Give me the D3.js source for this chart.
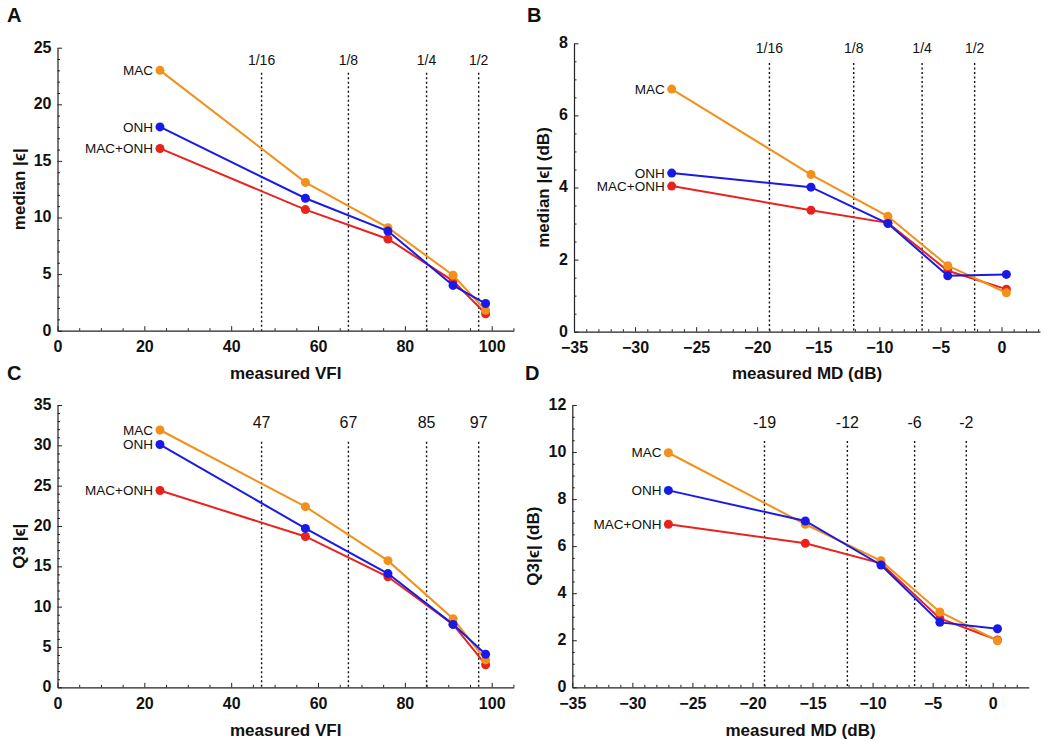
<!DOCTYPE html>
<html>
<head>
<meta charset="utf-8">
<script src="https://cdn.jsdelivr.net/npm/d3@7"></script>
<style>
  body { margin: 0; background: #fff; }
  text { font-family: "Liberation Sans", Arial, Helvetica, sans-serif; }
</style>
</head>
<body>
<svg id="fig" width="1050" height="741"></svg>
<script>
// measured VFI / MD bins (x positions of the points)
const vfiX = [23.6, 57.1, 76.1, 91.1, 98.6];
const mdX = [-27.0, -15.6, -9.3, -4.4, 0.4];

const seriesNames = ["MAC", "ONH", "MAC+ONH"];

// A: median |e| vs VFI
const medVfiMac = [23.0, 13.1, 9.1, 4.9, 1.8];
const medVfiOnh = [18.0, 11.7, 8.8, 4.0, 2.4];
const medVfiBoth = [16.1, 10.7, 8.1, 4.4, 1.5];

// B: median |e| (dB) vs MD
const medMdMac = [6.73, 4.36, 3.2, 1.83, 1.08];
const medMdOnh = [4.4, 4.01, 3.0, 1.55, 1.59];
const medMdBoth = [4.04, 3.37, 3.02, 1.69, 1.18];

// C: Q3 |e| vs VFI
const q3VfiMac = [31.9, 22.4, 15.7, 8.5, 3.4];
const q3VfiOnh = [30.1, 19.7, 14.1, 7.8, 4.1];
const q3VfiBoth = [24.4, 18.7, 13.7, 7.8, 2.8];

// D: Q3 |e| (dB) vs MD
const q3MdMac = [9.97, 6.93, 5.38, 3.2, 1.98];
const q3MdOnh = [8.37, 7.07, 5.2, 2.76, 2.49];
const q3MdBoth = [6.93, 6.12, 5.27, 2.93, 2.01];

// dotted reference lines
const vfiRefs = [47, 67, 85, 97];
const mdRefs = [-19, -12.1, -6.5, -2.2];
const fracLabels = ["1/16", "1/8", "1/4", "1/2"];
const vfiRefLabels = ["47", "67", "85", "97"];
const mdRefLabels = ["-19", "-12", "-6", "-2"];

const colors = { "MAC": "#f39019", "ONH": "#1a1ae6", "MAC+ONH": "#e8231e" };
const drawOrder = ["MAC+ONH", "MAC", "ONH"];

const svg = d3.select("#fig");

const panels = [
  { letter: "A", lx: 7, ly: 22, x: vfiX, ys: [medVfiMac, medVfiOnh, medVfiBoth],
    xDom: [0, 100], xRng: [57.5, 491.7], xEnd: 105.1, xMaj: d3.range(0, 101, 20), xMin: 5,
    yDom: [0, 25], yRng: [330.7, 47.7], yMaj: d3.range(0, 26, 5), yMin: 1,
    refs: vfiRefs, refLabels: fracLabels, refY: 60, refTop: 72.7, refFont: 14,
    xTitle: "measured VFI", xTitleY: 379, yTitle: "median |\u03f5|", yTitleX: 19 },
  { letter: "B", lx: 527, ly: 22, x: mdX, ys: [medMdMac, medMdOnh, medMdBoth],
    xDom: [-35, 0], xRng: [574, 1001.5], xEnd: 3.15, xMaj: d3.range(-35, 1, 5), xMin: 1,
    yDom: [0, 8], yRng: [331.7, 43.3], yMaj: d3.range(0, 9, 2), yMin: 0.5,
    refs: mdRefs, refLabels: fracLabels, refY: 48, refTop: 63, refFont: 14,
    xTitle: "measured MD (dB)", xTitleY: 379, yTitle: "median |\u03f5| (dB)", yTitleX: 543 },
  { letter: "C", lx: 7, ly: 380, x: vfiX, ys: [q3VfiMac, q3VfiOnh, q3VfiBoth],
    xDom: [0, 100], xRng: [57.5, 491.7], xEnd: 105.1, xMaj: d3.range(0, 101, 20), xMin: 5,
    yDom: [0, 35], yRng: [687.3, 405], yMaj: d3.range(0, 36, 5), yMin: 1,
    refs: vfiRefs, refLabels: vfiRefLabels, refY: 422, refTop: 441.7, refFont: 16,
    xTitle: "measured VFI", xTitleY: 736, yTitle: "Q3 |\u03f5|", yTitleX: 19 },
  { letter: "D", lx: 525, ly: 380, x: mdX, ys: [q3MdMac, q3MdOnh, q3MdBoth],
    xDom: [-35, 0], xRng: [572.3, 992.7], xEnd: 3.0, xMaj: d3.range(-35, 1, 5), xMin: 1,
    yDom: [0, 12], yRng: [687.3, 405], yMaj: d3.range(0, 13, 2), yMin: 0.5,
    refs: mdRefs, refLabels: mdRefLabels, refY: 422, refTop: 441, refFont: 16,
    xTitle: "measured MD (dB)", xTitleY: 736, yTitle: "Q3|\u03f5| (dB)", yTitleX: 533 }
];

panels.forEach(p => {
  const x = d3.scaleLinear().domain(p.xDom).range(p.xRng);
  const xAx = d3.scaleLinear().domain([p.xDom[0], p.xEnd]).range([x(p.xDom[0]), x(p.xEnd)]);
  const y = d3.scaleLinear().domain(p.yDom).range(p.yRng);
  const g = svg.append("g");

  // minor ticks
  const xMinor = d3.range(p.xDom[0], p.xEnd, p.xMin).filter(v => !p.xMaj.includes(Math.round(v * 100) / 100));
  g.append("g")
    .attr("transform", `translate(0,${y(0)})`)
    .call(d3.axisBottom(xAx).tickValues(xMinor).tickSize(-2.5).tickSizeOuter(0).tickFormat(""))
    .call(s => s.select(".domain").remove());
  const yMinor = d3.range(p.yDom[0], p.yDom[1], p.yMin).filter(v => !p.yMaj.includes(Math.round(v * 100) / 100));
  g.append("g")
    .attr("transform", `translate(${x(p.xDom[0])},0)`)
    .call(d3.axisLeft(y).tickValues(yMinor).tickSize(-2.5).tickSizeOuter(0).tickFormat(""))
    .call(s => s.select(".domain").remove());

  // major axes
  const xa = g.append("g")
    .attr("transform", `translate(0,${y(0)})`)
    .call(d3.axisBottom(xAx).tickValues(p.xMaj).tickSize(-4.5).tickSizeOuter(0).tickPadding(11.5));
  const ya = g.append("g")
    .attr("transform", `translate(${x(p.xDom[0])},0)`)
    .call(d3.axisLeft(y).tickValues(p.yMaj).tickSize(-4.5).tickSizeOuter(0).tickPadding(6));
  [xa, ya].forEach(a => {
    a.selectAll("text").attr("font-size", 16).attr("font-weight", "bold").attr("fill", "#111")
      .style("font-family", "'Liberation Sans', Arial, sans-serif");
    a.select(".domain").attr("stroke", "#222").attr("stroke-width", 1.2);
  });
  ya.selectAll("text").attr("dy", "0.28em");
  xa.selectAll("text").attr("dy", "0.62em");
  g.selectAll(".tick line").attr("stroke", "#222");

  // dotted reference lines
  p.refs.forEach((r, i) => {
    g.append("line")
      .attr("x1", x(r)).attr("x2", x(r))
      .attr("y1", p.refTop).attr("y2", y(0))
      .attr("stroke", "#111").attr("stroke-width", 1.4)
      .attr("stroke-dasharray", "2,2.5");
    g.append("text")
      .attr("x", x(r)).attr("y", p.refY).attr("dy", "0.35em")
      .attr("text-anchor", "middle").attr("font-size", p.refFont).attr("fill", "#111")
      .text(p.refLabels[i]);
  });

  // series
  const line = d3.line().x(d => x(d[0])).y(d => y(d[1]));
  drawOrder.forEach(name => {
    const vals = p.ys[seriesNames.indexOf(name)];
    const pts = p.x.map((v, i) => [v, vals[i]]);
    g.append("path").datum(pts)
      .attr("d", line).attr("fill", "none")
      .attr("stroke", colors[name]).attr("stroke-width", 2);
    g.selectAll(null).data(pts).enter().append("circle")
      .attr("cx", d => x(d[0])).attr("cy", d => y(d[1])).attr("r", 4.5)
      .attr("fill", colors[name]);
  });
  seriesNames.forEach((name, k) => {
    g.append("text")
      .attr("x", x(p.x[0]) - 7).attr("y", y(p.ys[k][0])).attr("dy", "0.35em")
      .attr("text-anchor", "end").attr("font-size", 13.5).attr("fill", "#111")
      .text(name);
  });

  // titles
  g.append("text")
    .attr("x", (xAx.range()[0] + xAx.range()[1]) / 2).attr("y", p.xTitleY)
    .attr("text-anchor", "middle").attr("font-size", 17).attr("font-weight", "bold").attr("fill", "#111")
    .text(p.xTitle);
  g.append("text")
    .attr("transform", `translate(${p.yTitleX},${(p.yRng[0] + p.yRng[1]) / 2}) rotate(-90)`)
    .attr("dy", "0.35em")
    .attr("text-anchor", "middle").attr("font-size", 17).attr("font-weight", "bold").attr("fill", "#111")
    .text(p.yTitle);
  g.append("text")
    .attr("x", p.lx).attr("y", p.ly)
    .attr("font-size", 20).attr("font-weight", "bold").attr("fill", "#111")
    .text(p.letter);
});
</script>
</body>
</html>
